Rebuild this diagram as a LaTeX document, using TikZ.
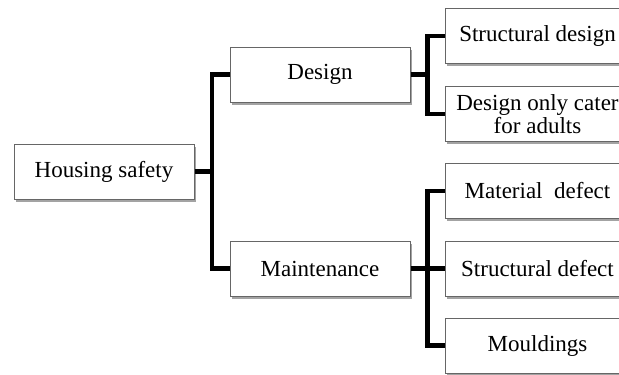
\documentclass[tikz,border=0pt]{standalone}
\usepackage{fontspec}
\setmainfont{Liberation Serif}
\usetikzlibrary{shadows}
\begin{document}
\begin{tikzpicture}[x=1pt,y=-1pt,
  box/.style={draw=black!60, line width=1pt, fill=white, minimum width=180pt, minimum height=55pt,
    inner sep=0pt, align=center, font=\fontsize{23}{23}\selectfont,
    drop shadow={shadow xshift=1.8pt, shadow yshift=-2.8pt, fill=black!60, opacity=0.6}},
  conn/.style={line width=4.2pt, line join=miter, line cap=butt}]
\clip (0,0) rectangle (619,375);
\fill[white] (0,0) rectangle (619,375);
\node[box] (hs) at (104,171.5) {Housing safety};
\node[box] (design) at (320,74.5) {Design};
\node[box] (maint) at (320,268.5) {Maintenance};
\node[box] (sd) at (535,36) {\hspace*{5pt}Structural design};
\node[box] (doc) at (535,114) {\hspace*{5pt}Design only cater\\\hspace*{5pt}for adults};
\node[box] (md) at (535,191) {\hspace*{5pt}Material\ \ defect};
\node[box] (sdef) at (535,268.5) {\hspace*{5pt}Structural defect};
\node[box] (mo) at (535,345.5) {\hspace*{5pt}Mouldings};
\coordinate (j1) at (212,171.5);
\coordinate (j2) at (427.5,74.5);
\coordinate (j3) at (427.5,268.5);
\draw[conn] (hs.east) -- (j1);
\draw[conn] (design.west) -| (j1) |- (maint.west);
\draw[conn] (design.east) -- (j2);
\draw[conn] (sd.west) -| (j2) |- (doc.west);
\draw[conn] (maint.east) -- (j3);
\draw[conn] (md.west) -| (j3) |- (mo.west);
\draw[conn] (j3) -- (sdef.west);
\end{tikzpicture}
\end{document}
